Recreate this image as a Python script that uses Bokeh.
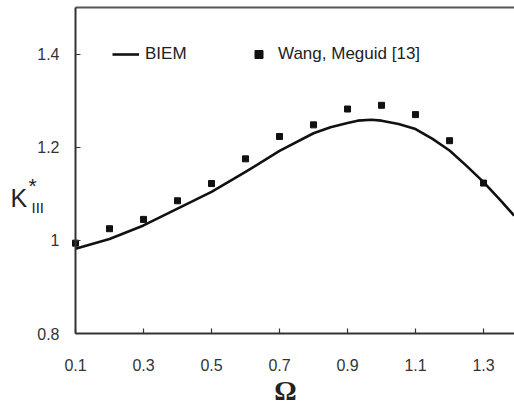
from bokeh.plotting import figure
from bokeh.models import Range1d, FixedTicker, Label, Legend, LegendItem, LinearAxis
from bokeh.embed import file_html
from bokeh.resources import INLINE

# BIEM curve
biem_x = [0.1, 0.2, 0.3, 0.4, 0.5, 0.6, 0.7, 0.8, 0.85, 0.9, 0.93, 0.97, 1.0, 1.05, 1.1, 1.15, 1.2, 1.25, 1.3, 1.35, 1.39]
biem_y = [0.982, 1.003, 1.032, 1.068, 1.104, 1.147, 1.192, 1.230, 1.243, 1.252, 1.257, 1.259, 1.257, 1.250, 1.239, 1.218, 1.193, 1.160, 1.125, 1.086, 1.053]

# Wang, Meguid [13]
wm_x = [0.1, 0.2, 0.3, 0.4, 0.5, 0.6, 0.7, 0.8, 0.9, 1.0, 1.1, 1.2, 1.3]
wm_y = [0.994, 1.025, 1.045, 1.085, 1.122, 1.175, 1.223, 1.248, 1.282, 1.290, 1.270, 1.214, 1.123]

x_ticks = [0.1, 0.3, 0.5, 0.7, 0.9, 1.1, 1.3]
y_ticks = [0.8, 1.0, 1.2, 1.4]
y_tick_labels = {0.8: "0.8", 1.0: "1", 1.2: "1.2", 1.4: "1.4"}
x_min, x_max = 0.1, 1.391
y_min, y_max = 0.8, 1.5

# whole canvas is the frame; axes are pinned at the data corner
W, H = 514, 407
L, B, T = 75, 74, 7
kx = (W - L) / (x_max - x_min)
ky = (H - B - T) / (y_max - y_min)
p = figure(width=W, height=H, output_backend="svg", toolbar_location=None,
           x_range=Range1d(x_min - L / kx, x_max), y_range=Range1d(y_min - B / ky, y_max + T / ky),
           min_border=0, x_axis_location=None, y_axis_location=None)
p.grid.visible = False
p.outline_line_color = None
p.background_fill_color = "white"
p.border_fill_color = "white"

xa = LinearAxis(fixed_location=y_min, bounds=(x_min, x_max), ticker=FixedTicker(ticks=x_ticks))
ya = LinearAxis(fixed_location=x_min, bounds=(y_min, y_max), ticker=FixedTicker(ticks=y_ticks))
ta = LinearAxis(fixed_location=y_max, bounds=(x_min, x_max), ticker=FixedTicker(ticks=[]),
                major_label_text_font_size="0px")
for ax in (xa, ya, ta):
    ax.axis_line_color = "#333333"
    ax.axis_line_width = 2
    ax.major_tick_line_color = "#333333"
    ax.major_tick_line_width = 1.2
    ax.major_tick_in = 5
    ax.major_tick_out = 0
    ax.minor_tick_line_color = None
    ax.major_label_text_font = "Liberation Sans"
    ax.major_label_text_font_size = "16px"
    ax.major_label_text_color = "#333333"
ta.axis_line_color = "#555555"
ta.major_label_text_font_size = "0px"
xa.major_label_standoff = 25
ya.major_label_overrides = y_tick_labels
ya.major_label_standoff = 16
p.add_layout(xa, "below")
p.add_layout(ya, "left")
p.add_layout(ta, "above")

r_line = p.line(biem_x, biem_y, line_color="#111111", line_width=2.6)
r_pts = p.scatter(wm_x, wm_y, marker="square", size=6, fill_color="#111111", line_color="#111111")

leg_kw = dict(orientation="horizontal", padding=0, margin=0, border_line_color=None,
              background_fill_alpha=0, glyph_width=27, glyph_height=20, label_height=20,
              label_standoff=6, label_text_font="Liberation Sans", label_text_font_size="17px",
              label_text_color="#222222")
leg1 = Legend(items=[LegendItem(label="BIEM", renderers=[r_line])], location=(112, 343), **leg_kw)
leg2 = Legend(items=[LegendItem(label="Wang, Meguid [13]", renderers=[r_pts])], location=(245, 343), **leg_kw)
p.add_layout(leg1, "center")
p.add_layout(leg2, "center")

# y axis label K*_III
p.add_layout(Label(x=10, y=210, x_units="screen", y_units="screen", text="K",
                   text_font="Liberation Sans", text_font_size="25px", text_color="#222222",
                   text_baseline="alphabetic"))
p.add_layout(Label(x=28, y=222, x_units="screen", y_units="screen", text="*",
                   text_font="Liberation Sans", text_font_size="21px", text_color="#222222",
                   text_baseline="alphabetic"))
p.add_layout(Label(x=31, y=200, x_units="screen", y_units="screen", text="III",
                   text_font="Liberation Sans", text_font_size="15px", text_color="#222222",
                   text_baseline="alphabetic"))
# x axis label
p.add_layout(Label(x=285, y=2, x_units="screen", y_units="screen", text="Ω",
                   text_font="Liberation Serif", text_font_size="28px", text_font_style="bold",
                   text_color="#222222", text_align="center", text_baseline="bottom"))

open("out.html", "w").write(file_html(p, INLINE))
